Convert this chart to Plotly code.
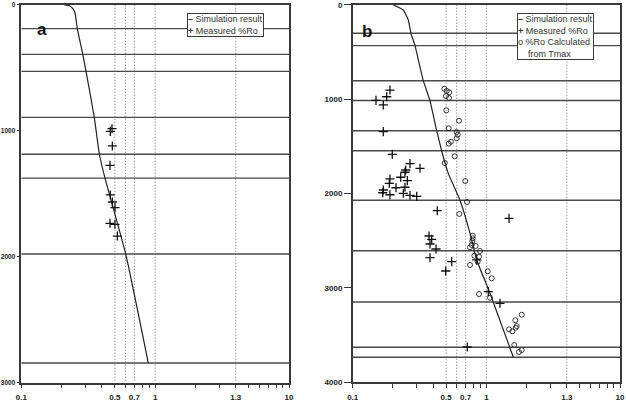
import plotly.graph_objects as go

# ---------------- data ----------------
# Panel a
a_sim_ro = [0.2085, 0.231, 0.2435, 0.252, 0.262, 0.288, 0.3045, 0.351, 0.383, 0.422, 0.603, 0.889]
a_sim_depth = [0, 10, 34, 66, 190, 394, 529, 894, 1187, 1376, 1979, 2844]
a_meas_ro = [0.4625, 0.476, 0.479, 0.460, 0.4625, 0.479, 0.501, 0.460, 0.501, 0.522]
a_meas_depth = [1005, 984, 1121, 1275, 1510, 1566, 1611, 1735, 1743, 1836]
a_boundaries = [190, 394, 529, 894, 1187, 1376, 1979, 2844]

# Panel b
b_sim_ro = [0.2013, 0.239, 0.2606, 0.273, 0.2925, 0.3375, 0.3786, 0.425, 0.463, 0.519, 0.635, 0.755, 0.847, 1.065, 1.592]
b_sim_depth = [0, 56, 162, 303, 434, 805, 1017, 1335, 1547, 1787, 2072, 2422, 2704, 3057, 3735]
b_meas_ro = [0.190, 0.1797, 0.1494, 0.1694, 0.1694, 0.1978, 0.2684, 0.3188, 0.2493, 0.2461,
             0.2287, 0.190, 0.2562, 0.1879, 0.2109, 0.2461, 0.1694, 0.1677, 0.190, 0.2391,
             0.2684, 0.3012, 0.4295, 1.478, 0.3724, 0.390, 0.3788, 0.420, 0.3788, 0.5504,
             0.4966, 0.847, 1.034, 1.265, 0.720]
b_meas_depth = [904, 975, 1013, 1062, 1345, 1585, 1684, 1733, 1751, 1775,
                1828, 1846, 1864, 1892, 1939, 1934, 1963, 1992, 2013, 1998,
                2019, 2030, 2182, 2263, 2450, 2485, 2535, 2588, 2680, 2722,
                2821, 2704, 3040, 3163, 3626]
b_tmax_ro = [0.4848, 0.505, 0.528, 0.499, 0.5255, 0.5015, 0.624, 0.523, 0.600, 0.6105,
             0.600, 0.544, 0.523, 0.580, 0.488, 0.696, 0.716, 0.628, 0.791, 0.791,
             0.785, 0.777, 0.7546, 0.832, 0.896, 0.813, 0.881, 0.861, 0.7546, 1.024,
             1.096, 0.881, 1.065, 1.839, 1.647, 1.687, 1.658, 1.478, 1.564, 1.618,
             1.839, 1.755]
b_tmax_depth = [890, 914, 928, 967, 988, 1119, 1229, 1309, 1349, 1377,
                1415, 1451, 1472, 1606, 1677, 1868, 2090, 2217, 2447, 2475,
                2503, 2545, 2570, 2556, 2609, 2659, 2669, 2722, 2757, 2824,
                2898, 3065, 3104, 3284, 3343, 3404, 3422, 3439, 3460, 3605,
                3658, 3679]
b_boundaries = [303, 434, 805, 1015, 1335, 1547, 2072, 2606, 3149, 3629, 3735]

# reference Ro lines (dotted) and axis ticks
ref_ro = [0.5, 0.6, 0.7, 1.0, 4.0]
x_tickvals = [0.1, 0.2, 0.3, 0.4, 0.5, 0.6, 0.7, 0.8, 0.9, 1, 2, 3, 4, 5, 6, 7, 8, 9, 10]
x_ticktext = ["0.1", "", "", "", "0.5", "", "0.7", "", "", "1", "", "", "1.3", "", "", "", "", "", "10"]
a_ytickvals = [0, 1000, 2000, 3000]
b_ytickvals = [0, 1000, 2000, 3000, 4000]
a_ymax = 3000
b_ymax = 4000

# ---------------- figure ----------------
W, H = 626, 404
fig = go.Figure()

line_col = "#3a3a3a"
grid_col = "#4a4a4a"
dot_col = "#707070"


def add_panel(xa, ya, ymax, bounds, sim_x, sim_y):
    for v in ref_ro:
        fig.add_trace(go.Scatter(x=[v, v], y=[0, ymax], mode="lines", xaxis=xa, yaxis=ya,
                                 line=dict(color=dot_col, width=1, dash="1px,2px"),
                                 showlegend=False, hoverinfo="skip"))
    for d in bounds:
        fig.add_trace(go.Scatter(x=[0.1, 10], y=[d, d], mode="lines", xaxis=xa, yaxis=ya,
                                 line=dict(color=grid_col, width=1.4),
                                 showlegend=False, hoverinfo="skip"))
    fig.add_trace(go.Scatter(x=sim_x, y=sim_y, mode="lines", xaxis=xa, yaxis=ya,
                             line=dict(color="#222222", width=1.2, shape="spline", smoothing=0.4),
                             showlegend=False))


add_panel("x", "y", a_ymax, a_boundaries, a_sim_ro, a_sim_depth)
fig.add_trace(go.Scatter(x=a_meas_ro, y=a_meas_depth, mode="markers", xaxis="x", yaxis="y",
                         marker=dict(symbol="cross-thin", size=6.5, line=dict(color="#111111", width=1.3)),
                         showlegend=False))

add_panel("x2", "y2", b_ymax, b_boundaries, b_sim_ro, b_sim_depth)
fig.add_trace(go.Scatter(x=b_tmax_ro, y=b_tmax_depth, mode="markers", xaxis="x2", yaxis="y2",
                         marker=dict(symbol="circle-open", size=5, color="#222222",
                                     line=dict(color="#222222", width=0.9)),
                         showlegend=False))
fig.add_trace(go.Scatter(x=b_meas_ro, y=b_meas_depth, mode="markers", xaxis="x2", yaxis="y2",
                         marker=dict(symbol="cross-thin", size=6.5, line=dict(color="#111111", width=1.3)),
                         showlegend=False))

tickfont = dict(family="Liberation Sans, Arial", size=8, color="#222222")
tickfont_a = dict(family="Liberation Sans, Arial", size=6.5, color="#222222")
bold = lambda s: "<b>%s</b>" % s if s != "" else ""
xcommon = dict(type="log", range=[-1, 1], tickmode="array", tickvals=x_tickvals,
               ticktext=[bold(t) for t in x_ticktext],
               ticks="outside", ticklen=4, tickwidth=1, tickcolor=line_col,
               showline=True, linecolor=line_col, linewidth=1.5, mirror=True, automargin=False,
               showgrid=False, zeroline=False, tickfont=tickfont, ticklabelstandoff=2)
ycommon = dict(ticks="outside", tickwidth=1, tickcolor=line_col, automargin=False,
               showline=True, linecolor=line_col, linewidth=1.5, mirror=True,
               showgrid=False, zeroline=False)

fig.update_layout(
    template="none",
    width=W, height=H,
    margin=dict(l=0, r=0, t=0, b=0),
    paper_bgcolor="white", plot_bgcolor="white",
    showlegend=False,
    xaxis=dict(domain=[21.3 / W, 289 / W], anchor="y", **xcommon),
    yaxis=dict(domain=[1 - 382.7 / H, 1 - 4.7 / H], anchor="x", range=[a_ymax, 0], ticklen=3,
               tickfont=tickfont_a,
               tickvals=a_ytickvals, ticktext=[bold(str(v)) for v in a_ytickvals], **ycommon),
    xaxis2=dict(domain=[352.7 / W, 620 / W], anchor="y2", **xcommon),
    yaxis2=dict(domain=[1 - 382.3 / H, 1 - 4.7 / H], anchor="x2", range=[b_ymax, 0], ticklen=7,
                tickfont=tickfont,
                tickvals=b_ytickvals, ticktext=[bold(str(v)) for v in b_ytickvals], **ycommon),
)

legfont = dict(family="Liberation Sans, Arial", size=9, color="#333333")
nb = "\u00a0"
fig.add_annotation(xref="paper", yref="paper", x=187 / W, y=1 - 13.3 / H, xanchor="left", yanchor="top",
                   text="<b>–</b> Simulation result<br><b>+</b> Measured %Ro", showarrow=False,
                   align="left", font=legfont, bgcolor="white", bordercolor=line_col, borderwidth=1,
                   borderpad=0)
fig.add_annotation(xref="paper", yref="paper", x=517 / W, y=1 - 13.3 / H, xanchor="left", yanchor="top",
                   text="<b>–</b> Simulation result<br><b>+</b> Measured %Ro<br>o" + nb + "%Ro Calculated<br>"
                        + nb * 4 + "from Tmax",
                   showarrow=False, align="left", font=legfont, bgcolor="white", bordercolor=line_col,
                   borderwidth=1, borderpad=0)

letterfont = dict(family="Liberation Sans, Arial", size=17, color="#111111")
fig.add_annotation(xref="paper", yref="paper", x=35 / W, y=1 - 18 / H, text="<b>a</b>", showarrow=False,
                   font=letterfont)
fig.add_annotation(xref="paper", yref="paper", x=367 / W, y=1 - 20 / H, text="<b>b</b>", showarrow=False,
                   font=letterfont)

fig.write_html("out.html")
